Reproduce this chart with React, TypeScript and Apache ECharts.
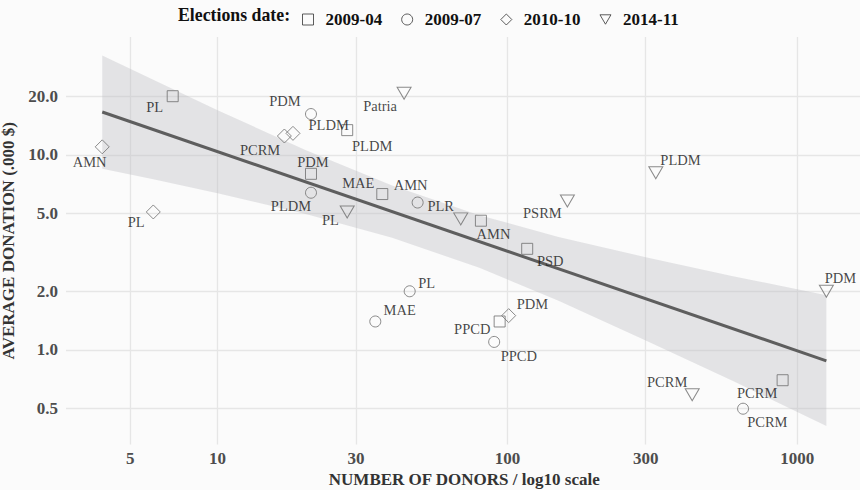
import React, { useEffect, useRef } from 'react';
import * as echarts from 'echarts';

// ---------- data ----------
const elections = ['2009-04', '2009-07', '2010-10', '2014-11'];

const parties0904 = ['PL', 'PLDM', 'PDM', 'MAE', 'AMN', 'PSD', 'PPCD', 'PCRM'];
const donors0904 = [7.0, 28, 21, 37, 81, 117, 94, 890];
const avg0904 = [20.0, 13.4, 8.0, 6.3, 4.6, 3.3, 1.4, 0.7];

const parties0907 = ['PDM', 'PLDM', 'AMN', 'PL', 'MAE', 'PPCD', 'PCRM'];
const donors0907 = [21, 21, 49, 46, 35, 90, 650];
const avg0907 = [16.2, 6.4, 5.7, 2.0, 1.4, 1.1, 0.5];

const parties1010 = ['AMN', 'PL', 'PCRM', 'PLDM', 'PDM'];
const donors1010 = [4.0, 6.0, 17.0, 18.2, 101];
const avg1010 = [11.0, 5.1, 12.5, 12.9, 1.5];

const parties1411 = ['Patria', 'PL', 'PLR', 'PSRM', 'PLDM', 'PCRM', 'PDM'];
const donors1411 = [44, 28, 69, 161, 325, 434, 1260];
const avg1411 = [20.7, 5.1, 4.7, 5.8, 8.1, 0.59, 2.0];

// regression line (ends) and confidence band
const fitDonors = [4.0, 1260];
const fitAvg = [16.6, 0.88];
const bandDonors = [4.0, 6, 10, 20, 40, 80, 150, 300, 600, 1260];
const bandUpper = [32.3, 24.3, 16.96, 10.64, 6.97, 4.91, 3.8, 2.99, 2.39, 1.91];
const bandLower = [8.5, 7.5, 6.36, 5.0, 3.76, 2.64, 1.79, 1.12, 0.693, 0.408];

const xTicks = [5, 10, 30, 100, 300, 1000];
const yTicks = [0.5, 1, 2, 5, 10, 20];

// ---------- layout (label offsets in px) ----------
const offsets0904 = [[-18, 11], [25, 16], [2, -11.5], [-24, -11.3], [12.6, 13.6], [23, 11.7], [-27.4, 7.6], [-25.4, 13]];
const offsets0907 = [[-26, -13], [-20, 13.3], [-7, -18], [17, -8], [24.4, -11], [24.7, 14], [24.3, 13.3]];
const offsets1010 = [[-12.6, 14.7], [-17.2, 9.7], [-24.3, 14], [35.7, -8.3], [23.7, -12]];
const offsets1411 = [[-24, 12.7], [-16.7, 8], [-20, -12.7], [-25, 11.7], [24.7, -12.7], [-25, -12.3], [14, -13]];

export default function App() {
  const ref = useRef<HTMLDivElement>(null);
  useEffect(() => {
    const el = ref.current!;
    const chart = echarts.init(el, null, { renderer: 'svg' });
    const L = Math.log10;
    const font = 'Liberation Serif';

    const defs = [
      { name: elections[0], donors: donors0904, avg: avg0904, parties: parties0904, offsets: offsets0904, symbol: 'rect', size: 11, rotate: 0 },
      { name: elections[1], donors: donors0907, avg: avg0907, parties: parties0907, offsets: offsets0907, symbol: 'circle', size: 11, rotate: 0 },
      { name: elections[2], donors: donors1010, avg: avg1010, parties: parties1010, offsets: offsets1010, symbol: 'diamond', size: 14, rotate: 0 },
      { name: elections[3], donors: donors1411, avg: avg1411, parties: parties1411, offsets: offsets1411, symbol: 'triangle', size: [14, 12], rotate: 180 },
    ];

    const scatter = defs.map((s) => ({
      type: 'scatter',
      name: s.name,
      symbol: s.symbol,
      symbolSize: s.size,
      symbolRotate: s.rotate,
      itemStyle: { color: 'rgba(0,0,0,0)', borderColor: '#6e6e6e', borderWidth: 1 },
      label: {
        show: true,
        position: 'inside',
        formatter: '{b}',
        color: '#151515',
        fontFamily: font,
        fontSize: 14.5,
        align: 'center',
        verticalAlign: 'middle',
      },
      emphasis: { disabled: true },
      z: 4,
      data: s.donors.map((d, i) => ({
        name: s.parties[i],
        value: [L(d), L(s.avg[i])],
        label: { offset: s.offsets[i] },
      })),
    }));

    const legendIcons = ['rect', 'circle', 'diamond', 'path://M0,0L14,0L7,12Z'];

    const option: any = {
      animation: false,
      backgroundColor: '#fbfbfb',
      textStyle: { fontFamily: font },
      grid: { left: 66, top: 37, width: 796.5, height: 407.5, containLabel: false, outerBoundsMode: 'none' },
      graphic: [
        {
          type: 'text',
          x: 178,
          y: 15,
          style: {
            text: 'Elections date:',
            fontFamily: font,
            fontSize: 17.8,
            fontWeight: 'bold',
            fill: '#111',
            verticalAlign: 'middle',
          },
        },
      ],
      legend: {
        left: 297,
        top: 6,
        itemWidth: 11,
        itemHeight: 11,
        itemGap: 19,
        selectedMode: false,
        data: elections.map((e, i) => ({ name: e, icon: legendIcons[i] })),
        itemStyle: { color: 'rgba(0,0,0,0)', borderColor: '#333', borderWidth: 1 },
        textStyle: {
          fontFamily: font,
          fontSize: 17,
          fontWeight: 'bold',
          color: '#111',
          padding: [0, 0, 0, 7],
        },
      },
      xAxis: {
        type: 'value',
        min: 0.477,
        max: 3.225,
        name: 'NUMBER OF DONORS / log10 scale',
        nameLocation: 'middle',
        nameGap: 22,
        nameTextStyle: { fontFamily: font, fontSize: 17, fontWeight: 'bold', color: '#333' },
        axisLine: { show: false },
        axisTick: { show: false, customValues: xTicks.map((v) => L(v)) },
        axisLabel: {
          customValues: xTicks.map((v) => L(v)),
          formatter: (v: number) => String(Math.round(Math.pow(10, v))),
          fontFamily: font,
          fontSize: 17,
          fontWeight: 'bold',
          color: '#4d4d4d',
          margin: 5,
        },
        splitLine: { show: true, lineStyle: { color: '#e6e6e6', width: 1.3 } },
      },
      yAxis: {
        type: 'value',
        min: -0.4845,
        max: 1.6045,
        name: 'AVERAGE DONATION (.000 $)',
        nameLocation: 'middle',
        nameGap: 46,
        nameTextStyle: { fontFamily: font, fontSize: 17, fontWeight: 'bold', color: '#333' },
        axisLine: { show: false },
        axisTick: { show: false, customValues: yTicks.map((v) => L(v)) },
        axisLabel: {
          customValues: yTicks.map((v) => L(v)),
          formatter: (v: number) => Math.pow(10, v).toFixed(1),
          fontFamily: font,
          fontSize: 17,
          fontWeight: 'bold',
          color: '#4d4d4d',
          margin: 8,
        },
        splitLine: { show: true, lineStyle: { color: '#e6e6e6', width: 1.3 } },
      },
      series: [
        {
          type: 'custom',
          name: 'band',
          silent: true,
          z: 1,
          data: [[L(bandDonors[0]), L(bandUpper[0])]],
          renderItem: (params: any, api: any) => {
            const pts: number[][] = [];
            for (let i = 0; i < bandDonors.length; i++) pts.push(api.coord([L(bandDonors[i]), L(bandUpper[i])]));
            for (let i = bandDonors.length - 1; i >= 0; i--) pts.push(api.coord([L(bandDonors[i]), L(bandLower[i])]));
            return { type: 'polygon', shape: { points: pts }, style: { fill: 'rgba(185,185,190,0.36)' } };
          },
        },
        {
          type: 'line',
          name: 'fit',
          silent: true,
          z: 3,
          showSymbol: false,
          symbol: 'none',
          lineStyle: { color: '#5e5e5e', width: 3 },
          data: fitDonors.map((d, i) => [L(d), L(fitAvg[i])]),
        },
        ...scatter,
      ],
    };
    chart.setOption(option);
    return () => chart.dispose();
  }, []);
  return (
    <div
      ref={ref}
      style={{ position: 'fixed', left: 0, top: 0, width: 860, height: 490 }}
    />
  );
}
